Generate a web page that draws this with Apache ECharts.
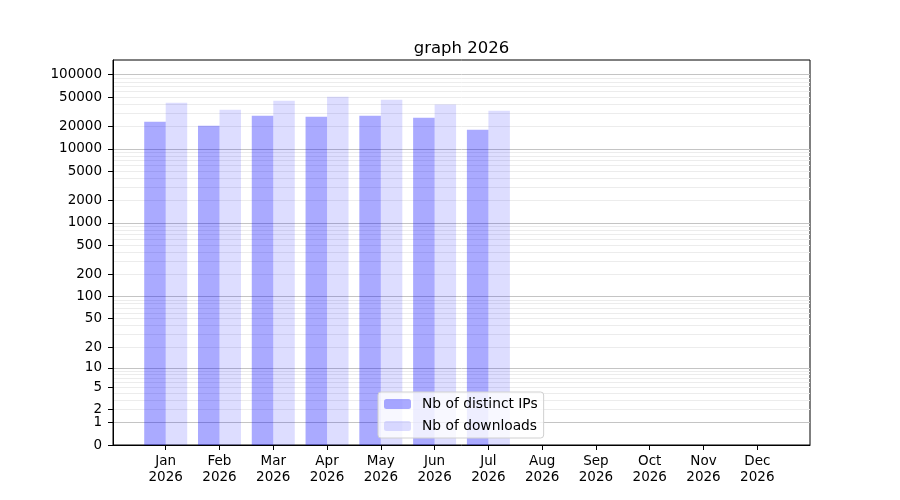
<!DOCTYPE html>
<html>
<head>
<meta charset="utf-8">
<script src="https://cdn.jsdelivr.net/npm/echarts@6/dist/echarts.min.js"></script>
<style>
  html, body { margin: 0; padding: 0; background: #fff; }
  #chart { width: 900px; height: 500px; }
</style>
</head>
<body>
<div id="chart"></div>
<script>
// monthly stats, only Jan..Jul filled so far
const months = ['Jan', 'Feb', 'Mar', 'Apr', 'May', 'Jun', 'Jul', 'Aug', 'Sep', 'Oct', 'Nov', 'Dec'];
const year = '2026';
const distinctIPs = [23200, 20500, 27900, 27000, 27900, 26200, 18100];
const downloads = [41900, 33600, 44600, 50500, 45900, 39700, 32600];

// y axis is log10(v + 1)
const yTickLabels = [0, 1, 2, 5, 10, 20, 50, 100, 200, 500, 1000, 2000, 5000, 10000, 20000, 50000, 100000];
const majorGrid = [1, 10, 100, 1000, 10000, 100000];
const minorSteps = [2, 3, 4, 5, 6, 7, 8, 9];
const decades = [1, 10, 100, 1000, 10000, 100000];

const tf = v => Math.log10(v + 1);
const minorGrid = [];
decades.forEach(d => minorSteps.forEach(m => minorGrid.push(d * m)));

const Y_MAX = 5.199;
const FONT = 'DejaVu Sans';

const hiddenY = (values, color) => ({
  type: 'value',
  min: 0,
  max: Y_MAX,
  axisLine: { show: false },
  axisLabel: { show: false },
  axisTick: { show: false, customValues: values.map(tf) },
  splitLine: { show: true, lineStyle: { color: color, width: 1 } }
});

const chart = echarts.init(document.getElementById('chart'), null, { renderer: 'canvas' });

chart.setOption({
  animation: false,
  backgroundColor: '#fff',
  textStyle: { fontFamily: FONT },
  title: {
    text: 'graph 2026',
    left: 456.5,
    textAlign: 'center',
    top: 35,
    textStyle: { fontFamily: FONT, fontSize: 16.5, fontWeight: 'normal', color: '#000' }
  },
  legend: {
    orient: 'vertical',
    left: 378,
    top: 392,
    padding: [5, 6, 5, 6],
    itemWidth: 27,
    itemHeight: 10,
    itemGap: 8,
    borderColor: '#d0d0d0',
    borderWidth: 1,
    borderRadius: 3,
    backgroundColor: 'rgba(255,255,255,0.8)',
    textStyle: { fontFamily: FONT, fontSize: 13.8, color: '#000', padding: [0, 0, 0, 6] },
    data: ['Nb of distinct IPs', 'Nb of downloads']
  },
  grid: {
    left: 113,
    right: 90,
    top: 60,
    bottom: 55,
    show: true,
    borderColor: '#000',
    borderWidth: 1,
    containLabel: false
  },
  xAxis: {
    type: 'value',
    min: -0.98,
    max: 11.98,
    axisLine: { onZero: false, lineStyle: { color: '#000', width: 1 } },
    axisTick: { show: true, length: 5, customValues: months.map((m, i) => i), lineStyle: { color: '#000' } },
    axisLabel: {
      customValues: months.map((m, i) => i),
      formatter: v => months[Math.round(v)] + '\n' + year,
      fontFamily: FONT,
      fontSize: 13.5,
      color: '#000',
      margin: 8,
      lineHeight: 16
    },
    splitLine: { show: false }
  },
  yAxis: [
    {
      type: 'value',
      min: 0,
      max: Y_MAX,
      axisLine: { show: true, onZero: false, lineStyle: { color: '#000', width: 1 } },
      axisTick: { show: true, length: 5, customValues: yTickLabels.map(tf), lineStyle: { color: '#000' } },
      axisLabel: {
        customValues: yTickLabels.map(tf),
        formatter: v => String(Math.round(Math.pow(10, v) - 1)),
        fontFamily: FONT,
        fontSize: 13.5,
        color: '#000',
        margin: 11
      },
      splitLine: { show: false }
    },
    hiddenY(minorGrid, '#ececec'),
    hiddenY(majorGrid, '#c4c4c4')
  ],
  series: [
    {
      name: 'Nb of distinct IPs',
      type: 'bar',
      yAxisIndex: 0,
      barWidth: 21.5,
      barGap: '0%',
      itemStyle: { color: 'rgba(0,0,255,0.333)' },
      data: distinctIPs.map((v, i) => [i, tf(v)])
    },
    {
      name: 'Nb of downloads',
      type: 'bar',
      yAxisIndex: 0,
      barWidth: 21.5,
      barGap: '0%',
      itemStyle: { color: 'rgba(0,0,255,0.135)' },
      data: downloads.map((v, i) => [i, tf(v)])
    }
  ]
});
</script>
</body>
</html>
